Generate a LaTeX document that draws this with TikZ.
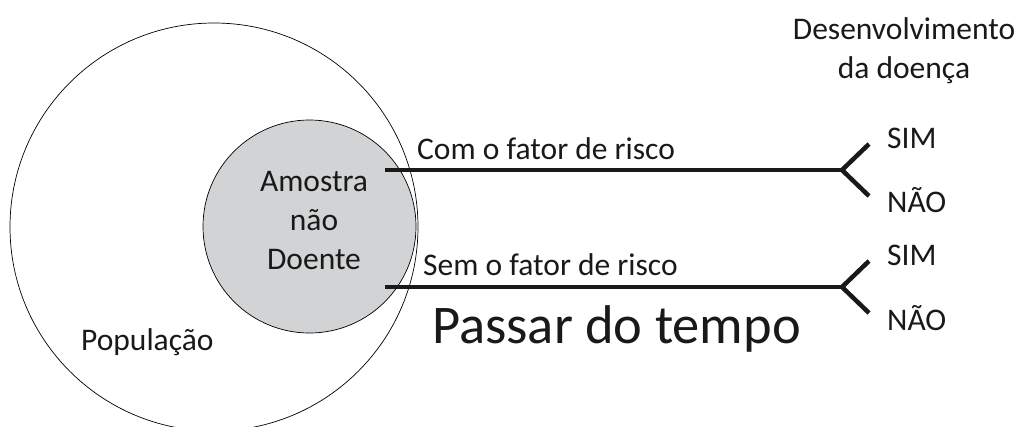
\documentclass[tikz,border=0pt]{standalone}
\usepackage{fontspec}
\setmainfont{Carlito}
\begin{document}
\begin{tikzpicture}[x=1pt,y=-1pt,
  lbl/.style={font=\fontsize{31.5}{39}\selectfont, inner sep=0pt, anchor=base west, text=black!90},
  thin circ/.style={draw=black, line width=0.7pt, circle, inner sep=0pt},
  branch/.style={line width=4.5pt, draw=black!90}]
\useasboundingbox (0,0) rectangle (1022,426);
% circles
\node[thin circ, minimum size=408pt] (pop) at (214,227) {};
\node[thin circ, minimum size=213pt, fill={rgb,255:red,209;green,211;blue,212}] (amostra) at (309.5,226.5) {};
\node[font=\fontsize{31.5}{39}\selectfont, align=center, inner sep=0pt, text=black!90, anchor=base] (amtxt) at (314,269) {Amostra\\não\\Doente};
\node[lbl] (poptxt) at (81,350) {População};
% branch lines
\coordinate (s1) at (385,170);
\coordinate (f1) at (842,170);
\coordinate (u1) at (869,144);
\coordinate (d1) at (869,196);
\coordinate (s2) at (385,287);
\coordinate (f2) at (842,287);
\coordinate (u2) at (869,261);
\coordinate (d2) at (869,313);
\draw[branch] (s1) -- (f1);
\draw[branch] (u1) -- (f1) -- (d1);
\draw[branch] (s2) -- (f2);
\draw[branch] (u2) -- (f2) -- (d2);
% labels
\node[lbl] (com) at (417,159) {Com o fator de risco};
\node[lbl] (sem) at (423,275) {Sem o fator de risco};
\node[lbl, font=\fontsize{54.5}{60}\selectfont] (tempo) at (432,343) {Passar do tempo};
\node[lbl] (sim1) at (887,148) {SIM};
\node[lbl] (nao1) at (887,212) {NÃO};
\node[lbl] (sim2) at (887,265) {SIM};
\node[lbl] (nao2) at (887,330) {NÃO};
\node[font=\fontsize{31.5}{39}\selectfont, align=center, inner sep=0pt, text=black!90, anchor=base] (desen) at (904,78) {Desenvolvimento\\da doença};
\end{tikzpicture}
\end{document}
